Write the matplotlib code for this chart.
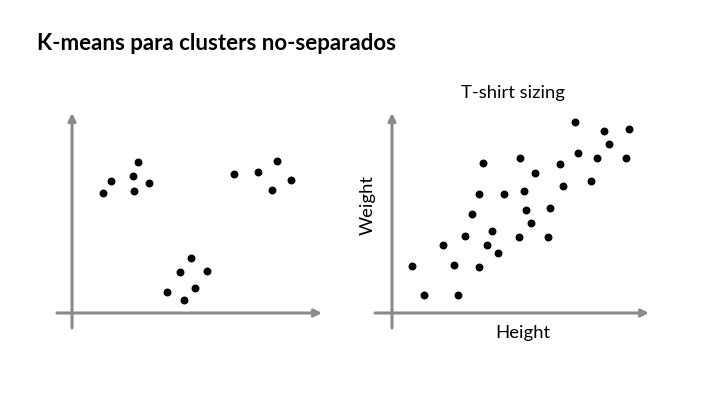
import matplotlib
matplotlib.use("Agg")
import matplotlib.pyplot as plt

plt.rcParams['font.family'] = ['Lato', 'DejaVu Sans']

# left panel: three well separated groups
sep_x = [6.6, 3.9, 6.1, 7.7, 3.1, 6.2,
         16.1, 18.5, 20.4, 21.8, 19.9,
         11.8, 10.8, 13.4, 12.2, 9.5, 11.2]
sep_y = [15.1, 13.2, 13.7, 13.0, 12.0, 12.2,
         13.9, 14.1, 15.2, 13.3, 12.3,
         5.5, 4.1, 4.2, 2.5, 2.1, 1.3]

# right panel: height vs weight, no clear groups
height = [18.3, 21.2, 23.7, 21.7, 18.6, 20.5, 23.4, 9.1, 12.8, 16.8, 14.3,
          19.9, 17.1, 8.7, 11.2, 13.2, 13.4, 15.8, 8.0, 13.9, 10.0, 7.3,
          12.7, 15.6, 5.1, 9.5, 10.6, 2.0, 6.2, 8.7, 3.2, 6.6]
weight = [19.1, 18.2, 18.4, 16.9, 16.0, 15.5, 15.5, 15.0, 15.5, 14.9, 14.0,
          13.2, 12.7, 11.9, 11.9, 12.2, 10.3, 10.5, 9.9, 9.0, 8.2, 7.7,
          7.6, 7.6, 6.8, 6.8, 6.0, 4.7, 4.8, 4.6, 1.8, 1.8]

W, H = 720, 405
fig = plt.figure(figsize=(7.2, 4.05), dpi=100)
fig.patch.set_facecolor('white')

axis_grey = '#8a8a8a'

def arrow_axes(ax, xlim, ylim):
    ax.set_xlim(*xlim)
    ax.set_ylim(*ylim)
    ax.axis('off')
    props = dict(arrowstyle='-|>', color=axis_grey, lw=2.2,
                 mutation_scale=11, shrinkA=0, shrinkB=0)
    ax.annotate('', xy=(xlim[1], 0), xytext=(xlim[0], 0),
                arrowprops=props, annotation_clip=False)
    ax.annotate('', xy=(0, ylim[1]), xytext=(0, ylim[0]),
                arrowprops=props, annotation_clip=False)

# left axes, placed in pixels
ax1 = fig.add_axes([57 / W, (H - 328) / H, 265 / W, 215 / H])
arrow_axes(ax1, (-1.5, 24.9), (-1.5, 20.0))
ax1.scatter(sep_x, sep_y, s=22, color='black', zorder=3)

ax2 = fig.add_axes([375 / W, (H - 328) / H, 274 / W, 215 / H])
arrow_axes(ax2, (-1.7, 25.7), (-1.5, 20.0))
ax2.scatter(height, weight, s=22, color='black', zorder=3)

fig.text(37 / W, 1 - 43 / H, 'K-means para clusters no-separados',
         fontsize=16, fontweight='bold', va='center', ha='left')
fig.text(513 / W, 1 - 93 / H, 'T-shirt sizing', fontsize=13.3,
         ha='center', va='center')
fig.text(368 / W, 1 - 205 / H, 'Weight', fontsize=13.3, rotation=90,
         ha='center', va='center')
fig.text(523 / W, 1 - 333 / H, 'Height', fontsize=13.3,
         ha='center', va='center')

fig.savefig('out.png', dpi=100, facecolor='white')
